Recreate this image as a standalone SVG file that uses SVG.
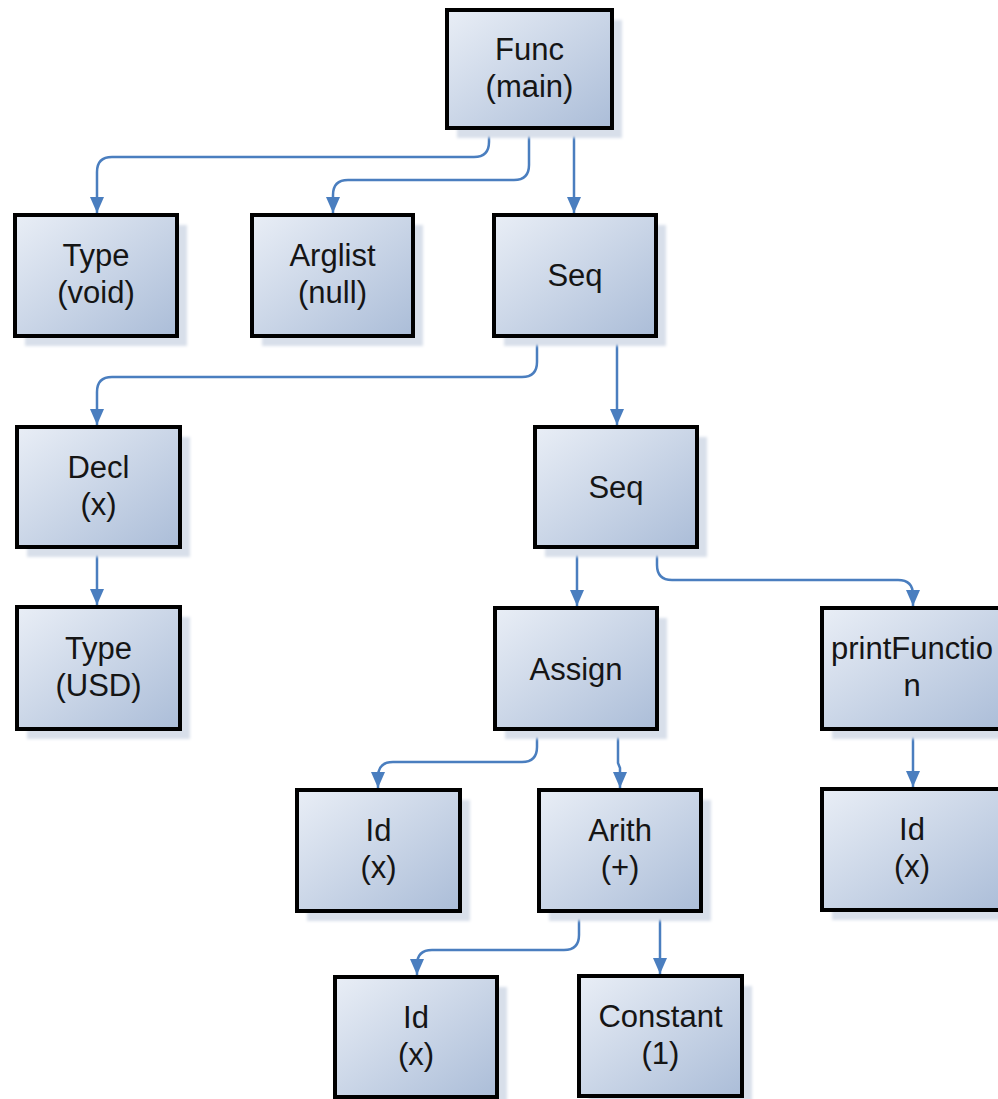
<svg xmlns="http://www.w3.org/2000/svg" width="998" height="1099" viewBox="0 0 998 1099">
  <defs>
    <linearGradient id="boxFill" x1="0" y1="0" x2="1" y2="1">
      <stop offset="0" stop-color="#e9eef6"/>
      <stop offset="1" stop-color="#abbdd8"/>
    </linearGradient>
    <filter id="soft" x="-10%" y="-10%" width="120%" height="120%">
      <feGaussianBlur stdDeviation="1.5"/>
    </filter>
    <marker id="arrow" markerUnits="userSpaceOnUse" markerWidth="16" markerHeight="14" refX="16" refY="7" orient="auto">
      <path d="M0,0 L16,7 L0,14 z" fill="#4a7ebf"/>
    </marker>
  </defs>
  <style>
    .shadow { fill: #d8dfea; filter: url(#soft); }
    .box { fill: url(#boxFill); stroke: #000; stroke-width: 4; }
    .label { font-family: "Liberation Sans", Arial, sans-serif; font-size: 31px; fill: #151515; text-anchor: middle; }
    .edge { fill: none; stroke: #4a7ebf; stroke-width: 2.5; marker-end: url(#arrow); }
  </style>
  <rect width="998" height="1099" fill="#ffffff"/>

  <!-- tree edges -->
  <g id="connectors">
    <path class="edge" d="M489,128 V142 Q489,157 474,157 H112 Q97,157 97,172 V213"/>
    <path class="edge" d="M529,128 V165 Q529,180 514,180 H348 Q333,180 333,195 V213"/>
    <path class="edge" d="M574,128 V213"/>
    <path class="edge" d="M537,337 V362 Q537,377 522,377 H112 Q97,377 97,392 V425"/>
    <path class="edge" d="M617,337 V425"/>
    <path class="edge" d="M97,547 V605"/>
    <path class="edge" d="M577,547 V606"/>
    <path class="edge" d="M657,547 V565 Q657,580 672,580 H898 Q913,580 913,595 V606"/>
    <path class="edge" d="M537,729 V747 Q537,762 522,762 H393 Q378,762 378,777 V788"/>
    <path class="edge" d="M618,729 V763 L620,768 V788"/>
    <path class="edge" d="M913,729 V787"/>
    <path class="edge" d="M579,911 V935 Q579,950 564,950 H432 Q417,950 417,965 V975"/>
    <path class="edge" d="M660,911 V974"/>
  </g>

  <g id="func-main">
    <rect class="shadow" x="457" y="20" width="165" height="118"/>
    <rect class="box" x="447" y="10" width="165" height="118"/>
    <text class="label" x="529.5" y="60">Func</text>
    <text class="label" x="529.5" y="97">(main)</text>
  </g>

  <g id="type-void">
    <rect class="shadow" x="25" y="225" width="162" height="121"/>
    <rect class="box" x="15" y="215" width="162" height="121"/>
    <text class="label" x="96" y="266">Type</text>
    <text class="label" x="96" y="303">(void)</text>
  </g>

  <g id="arglist-null">
    <rect class="shadow" x="262" y="225" width="161" height="121"/>
    <rect class="box" x="252" y="215" width="161" height="121"/>
    <text class="label" x="332.5" y="266">Arglist</text>
    <text class="label" x="332.5" y="303">(null)</text>
  </g>

  <g id="seq-1">
    <rect class="shadow" x="504" y="225" width="162" height="121"/>
    <rect class="box" x="494" y="215" width="162" height="121"/>
    <text class="label" x="575" y="286">Seq</text>
  </g>

  <g id="decl-x">
    <rect class="shadow" x="27" y="437" width="163" height="120"/>
    <rect class="box" x="17" y="427" width="163" height="120"/>
    <text class="label" x="98.5" y="478">Decl</text>
    <text class="label" x="98.5" y="515">(x)</text>
  </g>

  <g id="seq-2">
    <rect class="shadow" x="545" y="437" width="162" height="120"/>
    <rect class="box" x="535" y="427" width="162" height="120"/>
    <text class="label" x="616" y="498">Seq</text>
  </g>

  <g id="type-usd">
    <rect class="shadow" x="27" y="617" width="163" height="122"/>
    <rect class="box" x="17" y="607" width="163" height="122"/>
    <text class="label" x="98.5" y="659">Type</text>
    <text class="label" x="98.5" y="696">(USD)</text>
  </g>

  <g id="assign">
    <rect class="shadow" x="505" y="618" width="162" height="121"/>
    <rect class="box" x="495" y="608" width="162" height="121"/>
    <text class="label" x="576" y="680">Assign</text>
  </g>

  <g id="print-function">
    <rect class="shadow" x="832" y="618" width="184" height="121"/>
    <rect class="box" x="822" y="608" width="184" height="121"/>
    <text class="label" x="912" y="659">printFunctio</text>
    <text class="label" x="912" y="696">n</text>
  </g>

  <g id="id-x-1">
    <rect class="shadow" x="307" y="800" width="163" height="121"/>
    <rect class="box" x="297" y="790" width="163" height="121"/>
    <text class="label" x="378.5" y="841">Id</text>
    <text class="label" x="378.5" y="878">(x)</text>
  </g>

  <g id="arith-plus">
    <rect class="shadow" x="549" y="800" width="162" height="121"/>
    <rect class="box" x="539" y="790" width="162" height="121"/>
    <text class="label" x="620" y="841">Arith</text>
    <text class="label" x="620" y="878">(+)</text>
  </g>

  <g id="id-x-3">
    <rect class="shadow" x="832" y="799" width="184" height="121"/>
    <rect class="box" x="822" y="789" width="184" height="121"/>
    <text class="label" x="912" y="840">Id</text>
    <text class="label" x="912" y="877">(x)</text>
  </g>

  <g id="id-x-2">
    <rect class="shadow" x="345" y="987" width="162" height="120"/>
    <rect class="box" x="335" y="977" width="162" height="120"/>
    <text class="label" x="416" y="1028">Id</text>
    <text class="label" x="416" y="1065">(x)</text>
  </g>

  <g id="constant-1">
    <rect class="shadow" x="589" y="986" width="163" height="120"/>
    <rect class="box" x="579" y="976" width="163" height="120"/>
    <text class="label" x="660.5" y="1027">Constant</text>
    <text class="label" x="660.5" y="1064">(1)</text>
  </g>
</svg>
